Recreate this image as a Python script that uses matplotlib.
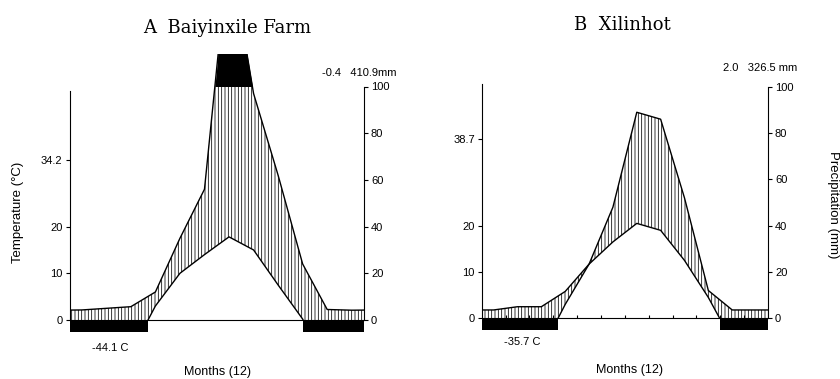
import numpy as np
import matplotlib.pyplot as plt

plt.rcParams['font.family'] = ['Liberation Sans', 'DejaVu Sans']
plt.rcParams['hatch.linewidth'] = 0.55

# month centres
months = np.arange(12) + 0.5

# A  Baiyinxile Farm  (temperature C, precipitation mm)
temp_a = [-21, -18, -7, 3, 10, 14, 17.8, 15, 7.5, 0.2, -10, -18]
prec_a = [4.3, 5.0, 5.7, 12, 35, 56, 160, 97, 62, 24, 4.5, 4.2]
tmax_a = 34.2
tmin_a = '-44.1 C'
info_a = '-0.4   410.9mm'

# B  Xilinhot
temp_b = [-19, -16, -7, 3, 11.7, 16.5, 20.5, 19, 12.5, 4.5, -5, -16]
prec_b = [3.6, 5.0, 5.0, 11.6, 23.4, 48, 89, 86, 52, 12, 3.6, 3.6]
tmax_b = 38.7
tmin_b = '-35.7 C'
info_b = '2.0   326.5 mm'

temp_ticks = [0, 10, 20]
prec_ticks = [0, 20, 40, 60, 80, 100]

W, H = 840, 379
fig = plt.figure(figsize=(W / 100, H / 100), dpi=100)


def wrap(v):
    # close the year at both edges with the Dec/Jan mean
    v = np.asarray(v, float)
    e = (v[0] + v[-1]) / 2
    return np.r_[0, months, 12], np.r_[e, v, e]


def diagram(rect, temp, prec, tmax, spine_top, month_ticks):
    ax = fig.add_axes(rect)
    x, t = wrap(temp)
    _, p = wrap(prec)
    p = p / 2  # 20 mm = 10 C

    ax.fill_between(x, t, p, facecolor='none', edgecolor='black',
                    hatch='|||||', linewidth=0)
    ax.fill_between(x, 50, p, where=p > 50, interpolate=True,
                    color='black', linewidth=0)
    ax.plot(x, p, color='black', lw=1.0)
    ax.plot(x, t, color='black', lw=1.0)

    # frost months bar below zero line
    xf = np.linspace(0, 12, 1201)
    tf = np.interp(xf, x, t)
    ax.fill_between(xf, -2.5, 0, where=tf < 0, color='black',
                    linewidth=0, clip_on=False)

    ax.set_xlim(0, 12)
    ax.set_ylim(0, 57)
    ax.spines['top'].set_visible(False)
    ax.spines['left'].set_bounds(0, spine_top)
    ax.spines['right'].set_bounds(0, 50)
    for s in ax.spines.values():
        s.set_linewidth(0.8)

    ax.set_yticks(temp_ticks + [tmax])
    ax.set_yticklabels([str(v) for v in temp_ticks] + [str(tmax)])
    ax.tick_params(axis='y', labelsize=8, length=3, width=0.8, pad=2)

    if month_ticks:
        ax.set_xticks(np.arange(1, 12))
        ax.tick_params(axis='x', direction='in', length=2.5, width=0.8,
                       labelbottom=False)
    else:
        ax.set_xticks([])

    ax2 = ax.twinx()
    ax2.set_ylim(0, 57)
    ax2.set_yticks([v / 2 for v in prec_ticks])
    ax2.set_yticklabels([str(v) for v in prec_ticks])
    ax2.tick_params(axis='y', labelsize=8, length=3, width=0.8, pad=2)
    for s in ax2.spines.values():
        s.set_visible(False)
    return ax


def fx(px):
    return px / W


def fy(py):
    return 1 - py / H


# panel A
axa = diagram([fx(69.5), fy(320), fx(364) - fx(69.5), 57 * 4.67 / H],
              temp_a, prec_a, tmax_a, 49, False)
# panel B
axb = diagram([fx(481.7), fy(318.3), fx(768) - fx(481.7), 57 * 4.63 / H],
              temp_b, prec_b, tmax_b, 50.5, True)

fig.text(fx(227), fy(28), 'A  Baiyinxile Farm', family='DejaVu Serif',
         fontsize=13, ha='center', va='center')
fig.text(fx(622), fy(25), 'B  Xilinhot', family='DejaVu Serif',
         fontsize=13, ha='center', va='center')

fig.text(fx(397), fy(73), info_a, fontsize=8, ha='right', va='center')
fig.text(fx(797), fy(68), info_b, fontsize=8, ha='right', va='center')

fig.text(fx(110), fy(348), tmin_a, fontsize=8, ha='center', va='center')
fig.text(fx(522), fy(342), tmin_b, fontsize=8, ha='center', va='center')

fig.text(fx(217), fy(372), 'Months (12)', fontsize=9, ha='center', va='center')
fig.text(fx(629), fy(370), 'Months (12)', fontsize=9, ha='center', va='center')

fig.text(fx(18), fy(212), 'Temperature (°C)', fontsize=9.5, rotation=90,
         ha='center', va='center')
fig.text(fx(833), fy(205), 'Precipitation (mm)', fontsize=9.5, rotation=270,
         ha='center', va='center')

fig.savefig('out.png', dpi=100)
